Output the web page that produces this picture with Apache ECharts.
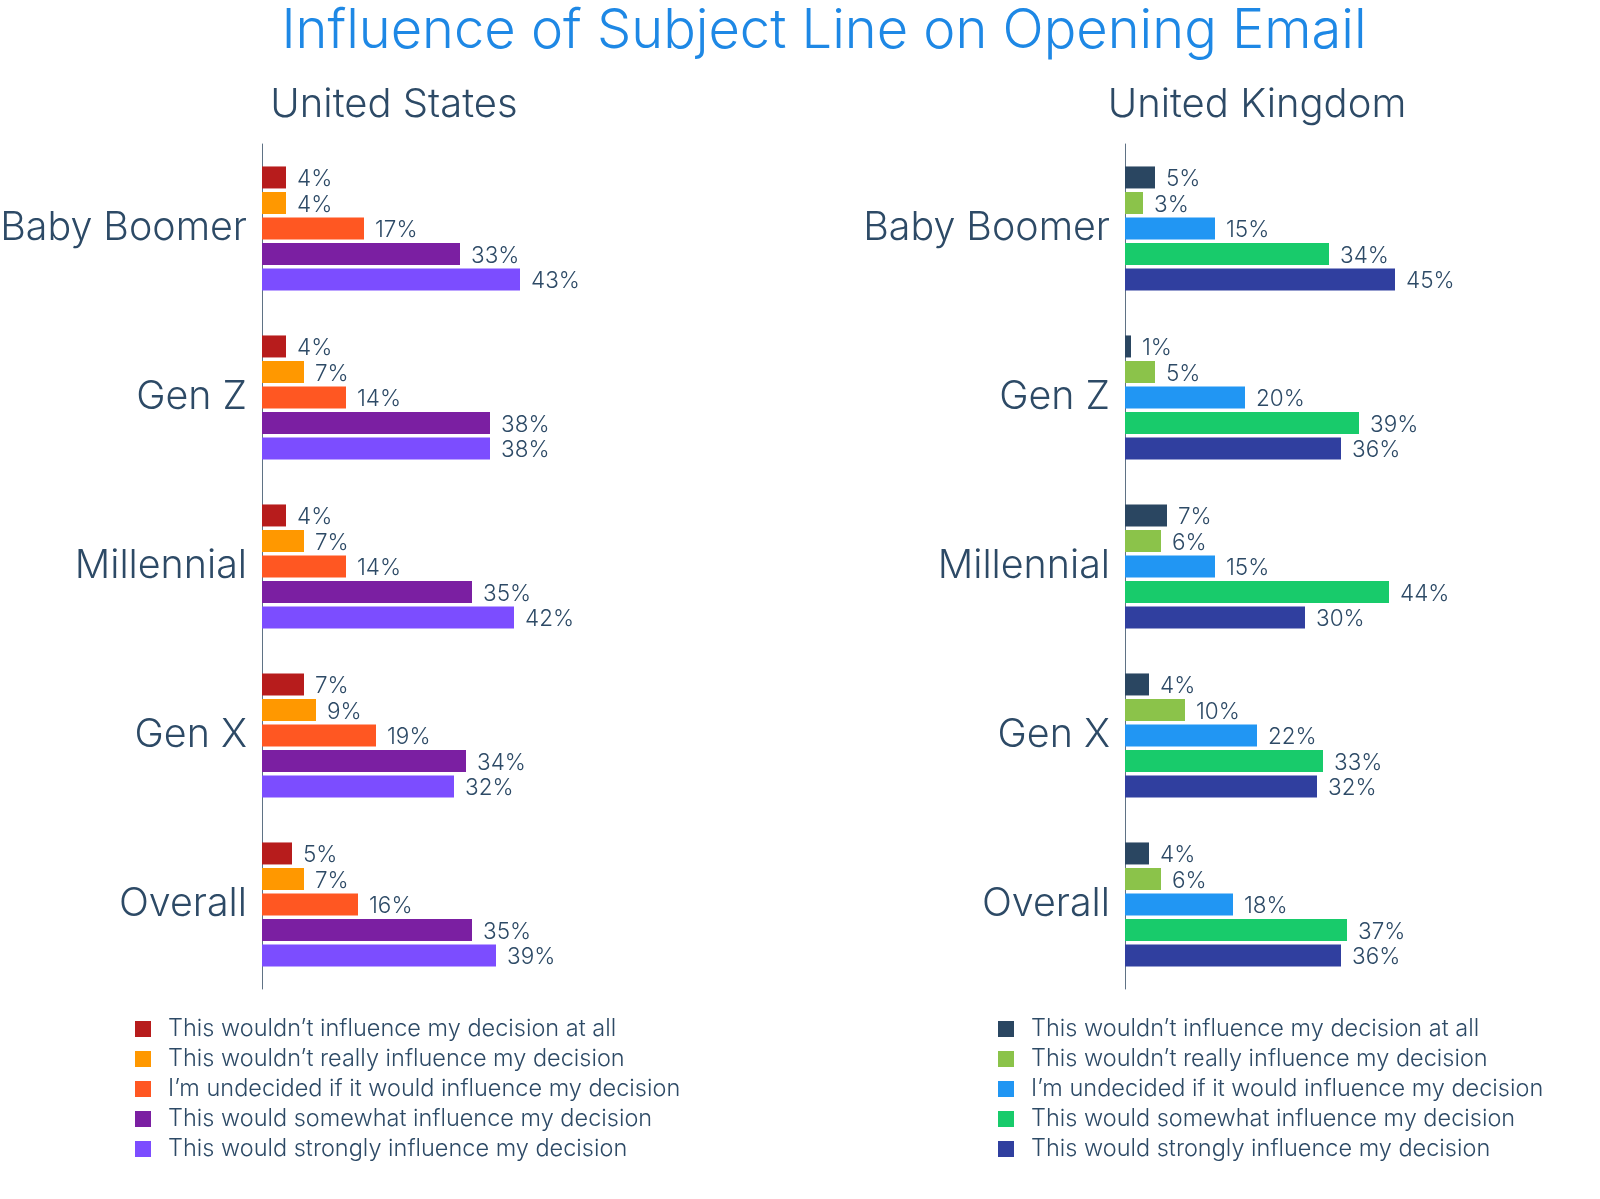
<!DOCTYPE html>
<html>
<head>
<meta charset="utf-8">
<style>
html, body { margin: 0; padding: 0; background: #fff; }
#main { width: 1600px; height: 1199px; }
</style>
<script src="https://cdn.jsdelivr.net/npm/echarts@6/dist/echarts.min.js"></script>
</head>
<body>
<div id="main"></div>
<script>
var categories = ['Baby Boomer', 'Gen Z', 'Millennial', 'Gen X', 'Overall'];
var seriesNames = [
    'This wouldn\u2019t influence my decision at all',
    'This wouldn\u2019t really influence my decision',
    'I\u2019m undecided if it would influence my decision',
    'This would somewhat influence my decision',
    'This would strongly influence my decision'
];
var usValues = [
    [4, 4, 4, 7, 5],
    [4, 7, 7, 9, 7],
    [17, 14, 14, 19, 16],
    [33, 38, 35, 34, 35],
    [43, 38, 42, 32, 39]
];
var ukValues = [
    [5, 1, 7, 4, 4],
    [3, 5, 6, 10, 6],
    [15, 20, 15, 22, 18],
    [34, 39, 44, 33, 37],
    [45, 36, 30, 32, 36]
];
var usColors = ['#b71c1c', '#ff9800', '#ff5722', '#7b1fa2', '#7c4dff'];
var ukColors = ['#2a4661', '#8bc34a', '#2196f3', '#18cb6b', '#303f9f'];
var textColor = '#2d4a66';
var fontName = 'Inter, "Open Sans", sans-serif';

var myChart = echarts.init(document.getElementById('main'));

function buildSeries(values, colors, idx) {
    return values.map(function (data, i) {
        return {
            name: seriesNames[i],
            type: 'bar',
            xAxisIndex: idx,
            yAxisIndex: idx,
            data: data,
            barWidth: 22,
            barGap: '16%',
            itemStyle: { color: colors[i] },
            label: {
                show: true,
                position: 'right',
                distance: 11,
                offset: [0, 2],
                formatter: '{c}%',
                color: textColor,
                fontSize: 22.5,
                fontWeight: 300,
                fontFamily: fontName
            }
        };
    });
}

// 左右两个图共用一套配置
function xAxis(idx) {
    return { gridIndex: idx, type: 'value', min: 0, max: 60, show: false };
}
function yAxis(idx) {
    return {
        gridIndex: idx,
        type: 'category',
        inverse: true,
        data: categories,
        axisTick: { show: false },
        axisLine: { lineStyle: { color: '#5f7285', width: 1 } },
        axisLabel: { color: textColor, fontSize: 39.4, fontWeight: 300, margin: 15, fontFamily: fontName }
    };
}
// 图例颜色按国家区分
function legend(left, colors) {
    return {
        left: left,
        top: 1012,
        orient: 'vertical',
        itemWidth: 16,
        itemHeight: 16,
        itemGap: 6,
        icon: 'rect',
        selectedMode: false,
        data: seriesNames.map(function (name, i) {
            return { name: name, itemStyle: { color: colors[i] } };
        }),
        textStyle: { color: textColor, fontSize: 23.5, fontWeight: 300, fontFamily: fontName, padding: [0, 0, 0, 12] }
    };
}

var option = {
    backgroundColor: '#fff',
    title: [
        { text: 'Influence of Subject Line on Opening Email', left: 819, top: 0, textAlign: 'center',
          textStyle: { color: '#1e88e5', fontSize: 54.2, fontWeight: 300, fontFamily: fontName } },
        { text: 'United States', left: 389, top: 80, textAlign: 'center',
          textStyle: { color: textColor, fontSize: 40, fontWeight: 300, fontFamily: fontName } },
        { text: 'United Kingdom', left: 1252, top: 80, textAlign: 'center',
          textStyle: { color: textColor, fontSize: 40, fontWeight: 300, fontFamily: fontName } }
    ],
    grid: [
        { left: 262, top: 144, width: 360, height: 845, outerBoundsMode: 'none' },
        { left: 1125, top: 144, width: 360, height: 845, outerBoundsMode: 'none' }
    ],
    xAxis: [xAxis(0), xAxis(1)],
    yAxis: [yAxis(0), yAxis(1)],
    legend: [legend(130, usColors), legend(993, ukColors)],
    series: buildSeries(usValues, usColors, 0).concat(buildSeries(ukValues, ukColors, 1))
};
myChart.setOption(option);
</script>
</body>
</html>
